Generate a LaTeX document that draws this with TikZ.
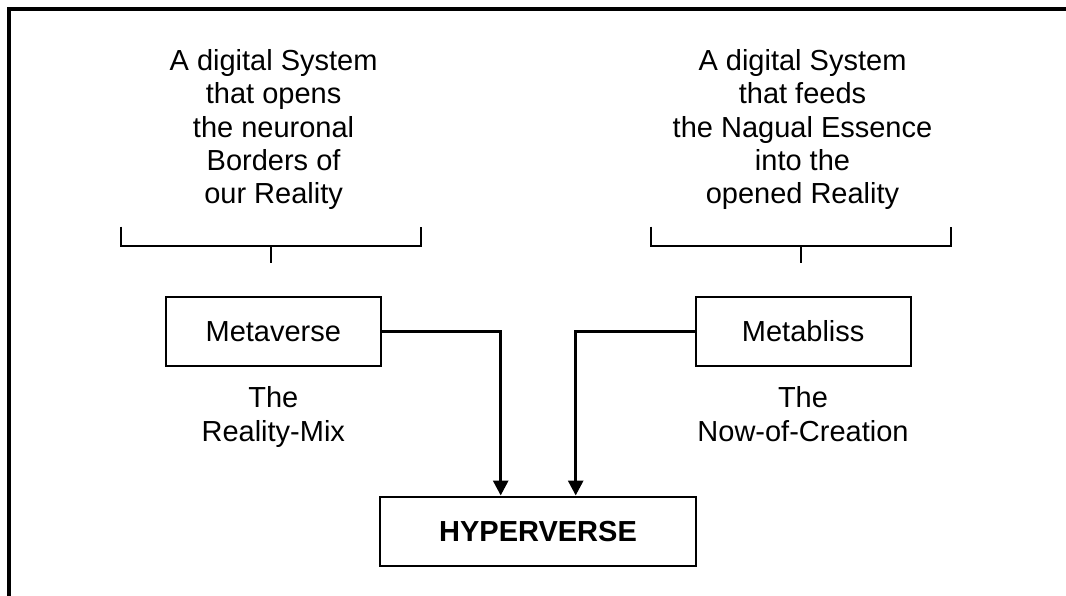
\documentclass[tikz,border=0pt]{standalone}
\usepackage{fontspec}
\setmainfont{Liberation Sans}
\usetikzlibrary{arrows.meta}
\tikzset{
  txt/.style={align=center, inner sep=0pt, font=\fontsize{29}{33.3}\selectfont},
  caja/.style={draw, line width=2.3pt, minimum height=69.3pt, inner sep=0pt, font=\fontsize{29}{33.3}\selectfont},
  flecha/.style={line width=3pt, -{Triangle[length=15pt,width=15pt]}},
  llave/.style={line width=2.2pt}
}
\begin{document}
\begin{tikzpicture}[x=1pt,y=-1pt]
  \useasboundingbox (0,0) rectangle (1066,596);
  % Marco
  \draw[line width=3.7pt] (9.2,596) -- (9.2,9.2) -- (1066,9.2);

  % Textos superiores
  \node[txt, anchor=north] (opens) at (273.6,49.2) {A digital System\\that opens\\the neuronal\\Borders of\\our Reality};
  \node[txt, anchor=north] (feeds) at (802.5,49.2) {A digital System\\that feeds\\the Nagual Essence\\into the\\opened Reality};

  % Llaves
  \draw[llave] (121,226.7) |- (421,246) -- (421,226.7);
  \draw[llave] (271,246) -- (271,263);
  \draw[llave] (651,226.7) |- (951,246) -- (951,226.7);
  \draw[llave] (801,246) -- (801,263);

  % Cajas
  \node[caja, minimum width=215.3pt] (metaverse) at (273.3,331.3) {Metaverse};
  \node[caja, minimum width=215pt] (metabliss) at (803.2,331.3) {Metabliss};
  \node[caja, minimum width=316pt, font=\fontsize{29}{33.3}\selectfont\bfseries] (hyperverse) at (538,531.3) {HYPERVERSE};

  % Subtitulos
  \node[txt, anchor=north] (mix) at (273.3,386.5) {The\\Reality-Mix};
  \node[txt, anchor=north] (now) at (803,386.5) {The\\Now-of-Creation};

  % Flechas
  \coordinate (inL) at ([xshift=-37.3pt]hyperverse.north);
  \coordinate (inR) at ([xshift=37.7pt]hyperverse.north);
  \draw[flecha] (metaverse.east) -| (inL);
  \draw[flecha] (metabliss.west) -| (inR);
\end{tikzpicture}
\end{document}
